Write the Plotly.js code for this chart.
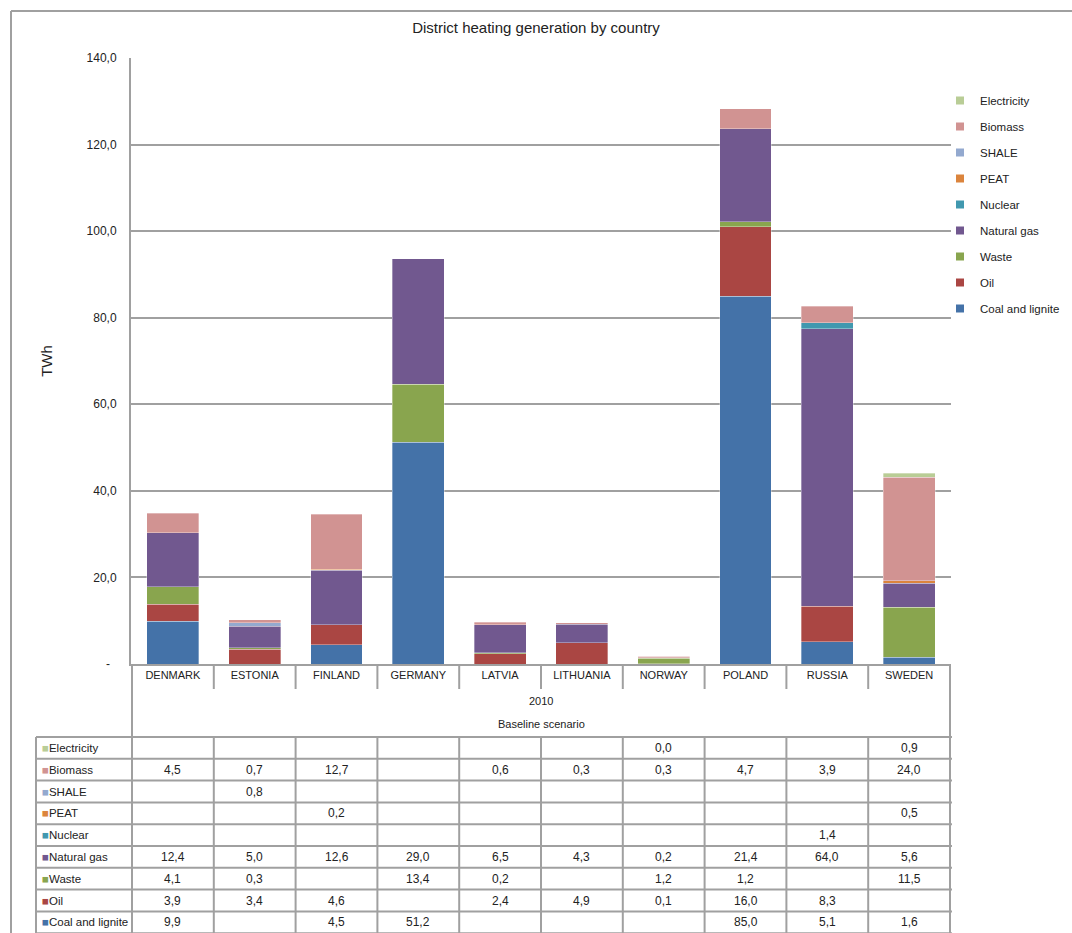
<!DOCTYPE html>
<html><head><meta charset="utf-8">
<script src="https://cdn.plot.ly/plotly-3.0.1.min.js"></script>
<style>html,body{margin:0;padding:0;background:#fff}</style>
</head><body>
<div id="chart" style="width:1072px;height:933px"></div>
<script>
// ---- data ----
const countries = ['DENMARK','ESTONIA','FINLAND','GERMANY','LATVIA','LITHUANIA','NORWAY','POLAND','RUSSIA','SWEDEN'];
const coalLignite = [9.9,null,4.5,51.2,null,null,null,85.0,5.1,1.6];
const oil         = [3.9,3.4,4.6,null,2.4,4.9,0.1,16.0,8.3,null];
const waste       = [4.1,0.3,null,13.4,0.2,null,1.2,1.2,null,11.5];
const naturalGas  = [12.4,5.0,12.6,29.0,6.5,4.3,0.2,21.4,64.0,5.6];
const nuclear     = [null,null,null,null,null,null,null,null,1.4,null];
const peat        = [null,null,0.2,null,null,null,null,null,null,0.5];
const shale       = [null,0.8,null,null,null,null,null,null,null,null];
const biomass     = [4.5,0.7,12.7,null,0.6,0.3,0.3,4.7,3.9,24.0];
const electricity = [null,null,null,null,null,null,0.0,null,null,0.9];
const seriesNames = ['Coal and lignite','Oil','Waste','Natural gas','Nuclear','PEAT','SHALE','Biomass','Electricity'];
const seriesValues = [coalLignite,oil,waste,naturalGas,nuclear,peat,shale,biomass,electricity];
const seriesColors = ['#4472A8','#AA4643','#89A54E','#71588F','#4198AF','#DB843D','#93A9CF','#D19392','#B9CD96'];
const yTickVals = [0,20,40,60,80,100,120,140];
const yTickText = ['-\u00a0\u00a0','20,0','40,0','60,0','80,0','100,0','120,0','140,0'];
const chartTitle = 'District heating generation by country';
const yTitle = 'TWh';
const yearLabel = '2010';
const scenarioLabel = 'Baseline scenario';

// ---- layout helpers (pixel -> paper) ----
const W = 1072, H = 933, ML = 131, MR = 121, MT = 58, MB = 269;
const PW = W - ML - MR, PH = H - MT - MB;
const px = p => (p - ML) / PW;
const py = p => (MT + PH - p) / PH;
const GRID = '#A0A0A0';
const FONT = 'Liberation Sans, Arial, sans-serif';
const TXT = '#222';
const fmt = v => v.toFixed(1).replace('.', ',');
const n = seriesNames.length;

const barTraces = seriesNames.map((name, i) => ({
  type: 'bar', name: name, x: countries, y: seriesValues[i],
  showlegend: false,
  marker: {color: seriesColors[i], line: {width: 0.6, color: 'rgba(255,255,255,0.55)'}},
  hoverinfo: 'name+y'
}));
// legend entries (small square keys like the original), top = last series
const legendTraces = seriesNames.map((name, i) => ({
  type: 'scatter', mode: 'markers', name: name, x: [null], y: [null],
  legendgroup: 'g' + i, legendrank: 100 - i,
  marker: {symbol: 'square', size: 8, color: seriesColors[i]},
  hoverinfo: 'skip'
}));

const shapes = [];
const annotations = [];
const lineStyle = {color: GRID, width: 2};
const tableTop = 737, rowH = 21.8;
const tableBottom = tableTop + rowH * n;
const tableLeft = 36;

// outer border (left + top)
shapes.push({type:'line', xref:'paper', yref:'paper', x0:px(11), x1:px(11), y0:py(11), y1:py(H+5), line:lineStyle});
shapes.push({type:'line', xref:'paper', yref:'paper', x0:px(11), x1:px(W+5), y0:py(11), y1:py(11), line:lineStyle});

// column boundaries
for (let k = 0; k <= countries.length; k++) {
  const xb = k - 0.5;
  if (k === 0 || k === countries.length) {
    shapes.push({type:'line', xref:'x', yref:'paper', x0:xb, x1:xb, y0:0, y1:py(tableBottom), line:lineStyle});
  } else {
    shapes.push({type:'line', xref:'x', yref:'paper', x0:xb, x1:xb, y0:0, y1:py(689), line:lineStyle});
    shapes.push({type:'line', xref:'x', yref:'paper', x0:xb, x1:xb, y0:py(tableTop), y1:py(tableBottom), line:lineStyle});
  }
}
// table left edge
shapes.push({type:'line', xref:'paper', yref:'paper', x0:px(tableLeft), x1:px(tableLeft), y0:py(tableTop), y1:py(tableBottom), line:lineStyle});
// table row lines
for (let r = 0; r <= n; r++) {
  const yy = py(tableTop + r * rowH);
  shapes.push({type:'line', xref:'paper', yref:'paper', x0:px(tableLeft), x1:1 + 0.0012, y0:yy, y1:yy, line:lineStyle});
}

// header texts
annotations.push({xref:'paper', yref:'paper', x:0.5, y:py(701), xanchor:'center', yanchor:'middle', text:yearLabel, showarrow:false, font:{family:FONT, size:11, color:TXT}});
annotations.push({xref:'paper', yref:'paper', x:0.5, y:py(724), xanchor:'center', yanchor:'middle', text:scenarioLabel, showarrow:false, font:{family:FONT, size:11, color:TXT}});

// table rows (top = last series)
for (let r = 0; r < n; r++) {
  const si = n - 1 - r;
  const yc = py(tableTop + r * rowH + rowH / 2);
  annotations.push({xref:'paper', yref:'paper', x:px(40), y:yc, xanchor:'left', yanchor:'middle', showarrow:false,
    text:'<span style="color:' + seriesColors[si] + '">\u25A0</span>' + seriesNames[si],
    font:{family:FONT, size:11.5, color:TXT}});
  seriesValues[si].forEach((v, c) => {
    if (v === null) return;
    annotations.push({xref:'x', yref:'paper', x:countries[c], y:yc, xanchor:'center', yanchor:'middle', showarrow:false, text:fmt(v),
      font:{family:FONT, size:12, color:TXT}});
  });
}

const layout = {
  width: W, height: H,
  margin: {l: ML, r: MR, t: MT, b: MB, pad: 0, autoexpand: false},
  paper_bgcolor: '#fff', plot_bgcolor: '#fff',
  barmode: 'stack', bargap: 0.366,
  font: {family: FONT, color: TXT},
  title: {text: chartTitle, x: 0.5, xref:'container', xanchor:'center', y: 1 - 28/H, yanchor:'middle',
          font: {family: FONT, size: 15, color: TXT}},
  xaxis: {type:'category', showgrid:false, showline:true, linecolor:GRID, linewidth:2,
          ticks:'', tickfont:{family:FONT, size:11, color:TXT}, fixedrange:true},
  yaxis: {range:[0,140], tickvals:yTickVals, ticktext:yTickText, showgrid:true, gridcolor:GRID, gridwidth:2,
          showline:true, linecolor:GRID, linewidth:2, zeroline:false,
          ticks:'outside', ticklen:10, tickcolor:'rgba(0,0,0,0)',
          tickfont:{family:FONT, size:12, color:TXT},
          title:{text:yTitle, font:{family:FONT, size:15, color:TXT}, standoff:30}},
  legend: {x: px(940), xanchor:'left', y: py(86), yanchor:'top', traceorder:'grouped',
           tracegroupgap: 7, font:{family:FONT, size:11.5, color:TXT}, bgcolor:'rgba(0,0,0,0)', itemwidth:30},
  shapes: shapes, annotations: annotations,
  showlegend: true
};

Plotly.newPlot('chart', barTraces.concat(legendTraces), layout, {displayModeBar:false, staticPlot:true});
</script>
</body></html>
